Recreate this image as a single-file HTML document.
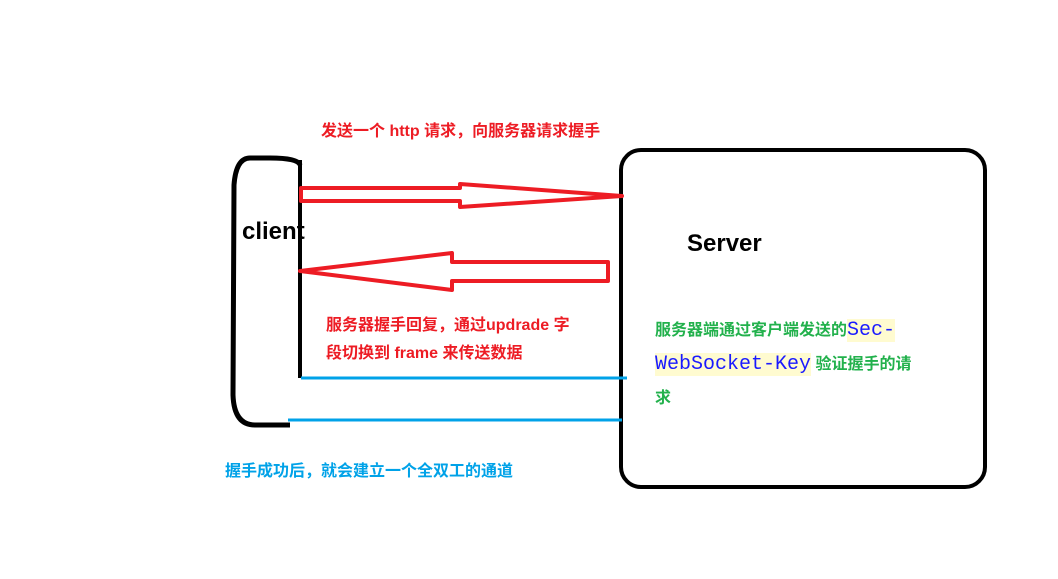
<!DOCTYPE html>
<html><head><meta charset="utf-8"><style>
body{margin:0;background:#fff;width:1058px;height:579px;position:relative;overflow:hidden;font-family:"Liberation Sans","Noto Sans CJK SC",sans-serif}
.t{position:absolute;font-weight:bold;white-space:nowrap}
</style></head><body>
<svg width="1058" height="579" style="position:absolute;left:0;top:0">
<path d="M300,165 Q298,158 270,158 L250,158 Q236,158 234,185 L233,395 Q234,425 255,425 L290,425" fill="none" stroke="#000" stroke-width="5"/>
<line x1="300" y1="160" x2="300" y2="378" stroke="#000" stroke-width="4"/>
<rect x="621" y="150" width="364" height="337" rx="20" fill="none" stroke="#000" stroke-width="4"/>
<polygon points="301,188 460,188 460,184 622,196 460,207 460,201 301,201" fill="none" stroke="#ed1c24" stroke-width="4" stroke-linejoin="round"/>
<polygon points="300,271 452,253 452,262 608,262 608,281 452,281 452,290" fill="none" stroke="#ed1c24" stroke-width="4" stroke-linejoin="round"/>
<line x1="301" y1="378" x2="627" y2="378" stroke="#00a2e8" stroke-width="3"/>
<line x1="288" y1="420" x2="622" y2="420" stroke="#00a2e8" stroke-width="3"/>
</svg>
<div class="t" style="left:321px;top:117px;font-size:16px;color:#ed1c24">发送一个 http 请求，向服务器请求握手</div>
<div class="t" style="left:242px;top:218px;font-size:24px;color:#000">client</div>
<div class="t" style="left:687px;top:230px;font-size:24px;color:#000">Server</div>
<div class="t" style="left:326px;top:312px;font-size:16px;color:#ed1c24;line-height:28px">服务器握手回复，通过updrade 字<br>段切换到 frame 来传送数据</div>
<div class="t" style="left:655px;top:314px;font-size:16px;color:#22b14c;line-height:34px">服务器端通过客户端发送的<span style="background:#fffbd0;color:#1a1aff;font-family:'Liberation Mono',monospace;font-weight:normal;font-size:20px">Sec-</span><br><span style="background:#fffbd0;color:#1a1aff;font-family:'Liberation Mono',monospace;font-weight:normal;font-size:20px">WebSocket-Key</span> 验证握手的请<br><span style="line-height:22px">求</span></div>
<div class="t" style="left:225px;top:457px;font-size:16px;color:#00a2e8">握手成功后，就会建立一个全双工的通道</div>
</body></html>
